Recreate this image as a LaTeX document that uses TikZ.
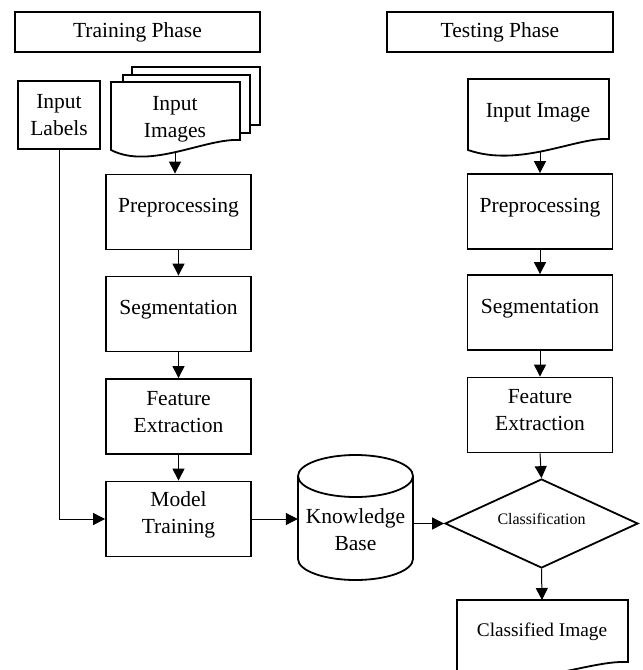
\documentclass[tikz,border=0pt]{standalone}
\usepackage{fontspec}
\setmainfont{Liberation Serif}
\usetikzlibrary{shapes.geometric,arrows.meta}
\begin{document}
\begin{tikzpicture}[x=1pt,y=-1pt,
  box/.style={draw, line width=1.8pt, minimum width=145pt, minimum height=75pt, inner sep=0pt},
  lbl/.style={align=center, inner sep=0pt, font=\fontsize{21.5}{27}\selectfont},
  shp/.style={draw, line width=1.8pt, line join=miter},
  arr/.style={line width=1pt, -{Triangle[length=12pt,width=12pt]}}]
\useasboundingbox (0,0) rectangle (643,670);
\clip (0,0) rectangle (643,670);
% phase headers
\node[box, lbl, draw, line width=1.8pt, minimum width=245pt, minimum height=40pt] (trp) at (137.5,32) {Training Phase};
\node[box, lbl, draw, line width=1.8pt, minimum width=226pt, minimum height=40pt] (tsp) at (500,32) {Testing Phase};
% input labels
\node[box, lbl, draw, line width=1.8pt, minimum width=82pt, minimum height=68pt] (ilab) at (59,115) {Input\\Labels};
% input images (multi-document)
\draw[shp, fill=white] (132,75) -- (132,67) -- (260,67) -- (260,125) -- (250,125);
\draw[shp, fill=white] (123,82) -- (123,75) -- (250,75) -- (250,133) -- (240,133);
\draw[shp, fill=white] (111,82) -- (240,82) -- (240,140) .. controls (205,138) and (150,170) .. (111,150) -- cycle;
\node[lbl] (iimg) at (175,119) {Input\\Images};
\coordinate (img1b) at (175,152);
% input image (testing)
\draw[shp, fill=white] (468,79) -- (609,79) -- (609,139) .. controls (576,137) and (520,168) .. (468,150) -- cycle;
\node[lbl] (iimg2) at (538,113) {Input Image};
\coordinate (img2b) at (540,151);
% training column
\node[box] (pre1) at (178.5,212) {};
\node[lbl] (pre1t) at (178.5,208) {Preprocessing};
\node[box] (seg1) at (178.5,314) {};
\node[lbl] (seg1t) at (178.5,310) {Segmentation};
\node[box] (fe1) at (178.5,416.5) {};
\node[lbl] (fe1t) at (178.5,412) {Feature\\Extraction};
\node[box] (mt) at (178.5,519) {};
\node[lbl] (mtt) at (178.5,514.5) {Model\\Training};
% testing column
\node[box] (pre2) at (540,211.5) {};
\node[lbl] (pre2t) at (540,207.5) {Preprocessing};
\node[box] (seg2) at (540,312.5) {};
\node[lbl] (seg2t) at (540,308.5) {Segmentation};
\node[box] (fe2) at (540,415) {};
\node[lbl] (fe2t) at (540,410.5) {Feature\\Extraction};
% knowledge base cylinder
\draw[shp] (298,476) -- (298,559) arc[start angle=180, end angle=360, x radius=57.5pt, y radius=21pt] -- (413,476) arc[start angle=0, end angle=180, x radius=57.5pt, y radius=21pt] -- cycle;
\draw[shp] (298,476) arc[start angle=180, end angle=360, x radius=57.5pt, y radius=21pt];
\node[inner sep=0pt, minimum width=115pt, minimum height=125pt] (kb) at (355.5,517.5) {};
\node[lbl] (kbt) at (355.5,530) {Knowledge\\Base};
% classification diamond
\node[diamond, draw, line width=1.8pt, aspect=2.17, minimum width=193pt, minimum height=89pt, inner sep=0pt] (cls) at (541.5,523.5) {};
\node[lbl, font=\fontsize{16}{19}\selectfont] (clst) at (541.5,519) {Classification};
% classified image document
\draw[shp] (457,600) -- (628,600) -- (628,662) .. controls (588,660) and (530,690) .. (457,674) -- cycle;
\node[lbl, font=\fontsize{19.3}{24}\selectfont] (outt) at (542,632) {Classified Image};
\coordinate (outtop) at (542,600);
% connectors
\draw[arr] (img1b) -- (img1b |- pre1.north);
\draw[arr] (pre1.south) -- (seg1.north);
\draw[arr] (seg1.south) -- (fe1.north);
\draw[arr] (fe1.south) -- (mt.north);
\draw[arr] (ilab.south) |- (mt.west);
\draw[arr] (mt.east) -- (mt.east -| kb.west);
\draw[arr] (kb.east |- cls.west) -- (cls.west);
\draw[arr] (img2b) -- (img2b |- pre2.north);
\draw[arr] (pre2.south) -- (seg2.north);
\draw[arr] (seg2.south) -- (fe2.north);
\draw[arr] (fe2.south) -- (cls.north);
\draw[arr] (cls.south) -- (outtop);
\end{tikzpicture}
\end{document}
